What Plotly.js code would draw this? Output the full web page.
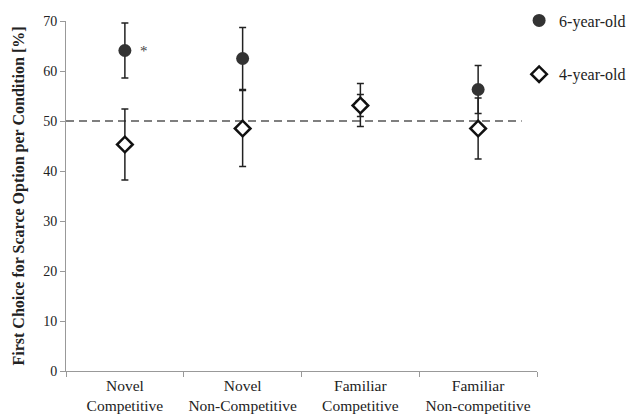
<!DOCTYPE html>
<html><head><meta charset="utf-8">
<script src="https://cdn.plot.ly/plotly-3.0.1.min.js"></script>
<style>html,body{margin:0;padding:0;background:#fff}#chart{width:631px;height:418px}</style>
</head><body><div id="chart"></div>
<script>
const categories = ["Novel<br>Competitive", "Novel<br>Non-Competitive", "Familiar<br>Competitive", "Familiar<br>Non-competitive"];
const sixYearOld = [64.1, 62.5, 53.2, 56.3];
const sixYearOldErr = [5.5, 6.2, 4.3, 4.8];
const fourYearOld = [45.3, 48.5, 53.1, 48.5];
const fourYearOldErr = [7.1, 7.6, 2.2, 6.1];
const chanceLevel = 50;
const yTicks = [0, 10, 20, 30, 40, 50, 60, 70];

const serif = "Liberation Serif, Times New Roman, serif";

const traces = [
  {
    type: "scatter", mode: "markers", name: "6-year-old", legendgroup: "a",
    x: categories, y: sixYearOld,
    error_y: {type: "data", array: sixYearOldErr, visible: true, color: "#222", thickness: 1.5, width: 3.5},
    marker: {symbol: "circle", size: 13, color: "#333333", line: {width: 0}}
  },
  {
    type: "scatter", mode: "markers", name: "4-year-old", legendgroup: "b",
    x: categories, y: fourYearOld,
    error_y: {type: "data", array: fourYearOldErr, visible: true, color: "#222", thickness: 1.5, width: 3.5},
    marker: {symbol: "diamond", size: 12, color: "#ffffff", line: {width: 2.5, color: "#111"}}
  }
];

const layout = {
  width: 631, height: 418,
  margin: {l: 66, r: 94, t: 21, b: 47, autoexpand: false},
  paper_bgcolor: "#fff", plot_bgcolor: "#fff",
  font: {family: serif, size: 15, color: "#222"},
  showlegend: true,
  legend: {x: 0.962, y: 1.05, xanchor: "left", yanchor: "top", tracegroupgap: 30,
           font: {family: serif, size: 16, color: "#222"}, itemwidth: 30, bgcolor: "rgba(0,0,0,0)"},
  xaxis: {
    type: "category", range: [-0.5, 3.5], showline: true, linecolor: "#999", linewidth: 1,
    ticks: "outside", tickson: "boundaries", ticklen: 5, tickcolor: "#999",
    showgrid: false, zeroline: false, tickfont: {family: serif, size: 15.5, color: "#222"}
  },
  yaxis: {
    range: [0, 70], tickvals: yTicks, showline: true, linecolor: "#999", linewidth: 1,
    ticks: "outside", ticklen: 5, tickcolor: "#999", showgrid: false, zeroline: false,
    tickfont: {family: serif, size: 14, color: "#222"},
    title: {text: "<b>First Choice for Scarce Option per Condition [%]</b>", font: {family: serif, size: 16, color: "#222"}, standoff: 14}
  },
  shapes: [{
    type: "line", xref: "x", yref: "y", x0: -0.5, x1: 3.37, y0: chanceLevel, y1: chanceLevel,
    line: {color: "#555", width: 1.5, dash: "8px,5px"}, layer: "below"
  }],
  annotations: [{
    x: categories[0], y: sixYearOld[0], xref: "x", yref: "y", text: "*", showarrow: false,
    xshift: 19, yshift: 0, font: {family: serif, size: 15, color: "#444"}
  }]
};

Plotly.newPlot("chart", traces, layout, {displayModeBar: false, staticPlot: true});
</script></body></html>
